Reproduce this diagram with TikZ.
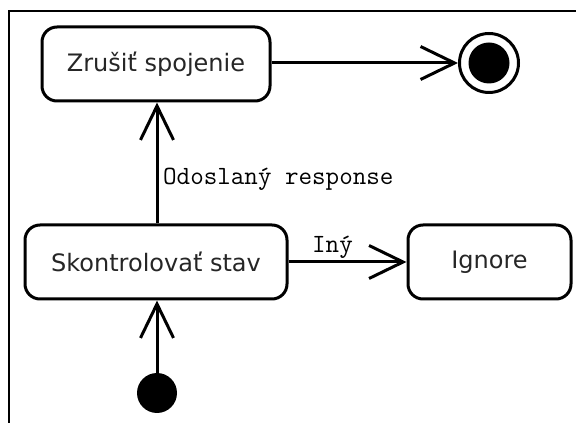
\documentclass[tikz,border=0pt]{standalone}
\usepackage{fontspec}
\setmainfont{DejaVu Sans}
\usetikzlibrary{arrows.meta}
\begin{document}
\begin{tikzpicture}[x=1pt,y=1pt,
  state/.style={draw, line width=3pt, rounded corners=15pt, inner sep=0pt,
    minimum height=74pt, text=black!85,
    font=\fontsize{24}{28}\selectfont},
  trans/.style={line width=3pt, -{Straight Barb[length=34pt,width=33pt,line width=3pt]}},
  guard/.style={anchor=base west, inner sep=0pt, font=\ttfamily\fontsize{26.3}{30}\selectfont},
  frameline/.style={line width=2pt}]
  \useasboundingbox (0,0) rectangle (576,423);
  \fill[white] (0,0) rectangle (576,423);
  % diagram frame (open towards the right and bottom)
  \draw[frameline] (9,0) -- (9,412) -- (576,412);

  % states
  \node[state, minimum width=228pt] (zrus) at (156,359) {Zrušiť spojenie};
  \node[state, minimum width=262pt] (skon) at (156,161) {Skontrolovať stav};
  \node[state, minimum width=163pt] (ign) at (489.5,161) {Ignore};

  % initial and final pseudo-states
  \node[circle, fill=black, minimum size=40pt, inner sep=0pt] (init) at (157,30) {};
  \node[circle, draw, fill=white, line width=3pt, minimum size=59pt, inner sep=0pt] (fin) at (489,360) {};
  \fill (fin.center) circle (20.5pt);

  % transitions
  \draw[trans] (init) -- (init |- skon.south);
  \draw[trans] (skon.north -| init) -- (init |- zrus.south);
  \draw[trans] (zrus.east |- fin) -- (fin.west);
  \draw[trans] (skon.east) -- (ign.west);

  % guards
  \node[guard] (g1) at (163,238) {Odoslaný response};
  \node[guard] (g2) at (312,170) {Iný};
\end{tikzpicture}
\end{document}
